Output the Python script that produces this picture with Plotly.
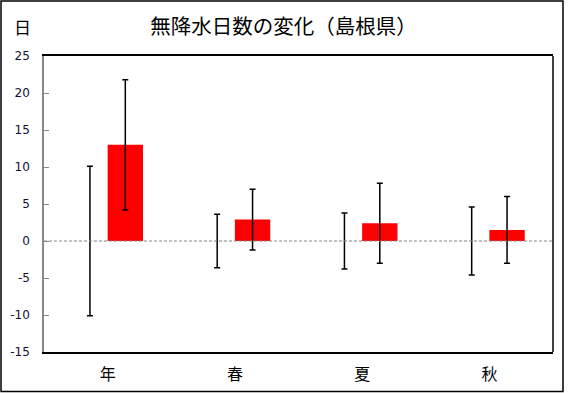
import plotly.graph_objects as go

categories = ["年", "春", "夏", "秋"]
base_values = [0, 0, 0, 0]
base_err = [10.1, 3.6, 3.8, 4.6]
change_values = [13.0, 2.9, 2.4, 1.5]
change_err = [8.8, 4.1, 5.4, 4.5]
y_ticks = [-15, -10, -5, 0, 5, 10, 15, 20, 25]
y_tick_labels = [str(v) for v in y_ticks]

W, H = 568, 393
L, R, T, B = 44, 15, 56, 41
pw = W - L - R
ph = H - T - B


def px_x(p):
    return (p - L) / pw


def px_y(p):
    return (H - B - p) / ph


fig = go.Figure()
fig.add_trace(go.Bar(
    x=categories, y=base_values, marker=dict(color="rgba(0,0,0,0)"),
    error_y=dict(type="data", array=base_err, visible=True, color="black", thickness=1.5, width=3),
    showlegend=False, hoverinfo="skip"))
fig.add_trace(go.Bar(
    x=categories, y=change_values, marker=dict(color="#FF0000", line=dict(width=0)),
    error_y=dict(type="data", array=change_err, visible=True, color="black", thickness=1.5, width=3),
    showlegend=False))

fig.update_layout(
    width=W, height=H,
    margin=dict(l=L, r=R, t=T, b=B, pad=0, autoexpand=False),
    paper_bgcolor="white", plot_bgcolor="white",
    barmode="group", bargap=0.444, bargroupgap=0,
    font=dict(family="DejaVu Sans, sans-serif", size=12, color="black"),
    title=dict(text="無降水日数の変化（島根県）", x=283.5 / W, xref="container", xanchor="center",
               y=1 - 27 / H, yref="container", yanchor="middle",
               font=dict(family="Noto Sans CJK JP", size=20.5, color="black")),
    xaxis=dict(showline=True, linecolor="black", linewidth=1.5, mirror=True,
               showgrid=False, ticks="", zeroline=False, automargin=False,
               ticklabelstandoff=7,
               tickfont=dict(family="Noto Sans CJK JP", size=16, color="black")),
    yaxis=dict(range=[-15, 25], tickvals=y_ticks, ticktext=y_tick_labels,
               showgrid=False, zeroline=False, automargin=False,
               showline=True, linecolor="#888888", linewidth=1.5,
               ticks="inside", ticklen=5, tickcolor="#888888", tickwidth=1,
               tickfont=dict(size=12, color="#111133"), ticklabelstandoff=10),
    annotations=[dict(text="日", xref="paper", yref="paper",
                      x=px_x(22), y=px_y(27), xanchor="center", yanchor="middle",
                      showarrow=False, font=dict(family="Noto Sans CJK JP", size=17, color="black"))],
    shapes=[
        dict(type="line", xref="paper", yref="y", x0=0, x1=1, y0=0, y1=0,
             line=dict(color="#888888", width=1, dash="3px,2px"), layer="above"),
        dict(type="line", xref="paper", yref="paper", x0=1, x1=1, y0=0, y1=1,
             line=dict(color="black", width=1.5)),
        dict(type="rect", xref="paper", yref="paper",
             x0=px_x(1), x1=px_x(563), y0=px_y(391.5), y1=px_y(1),
             line=dict(color="black", width=1.5)),
    ],
)

fig.write_html("out.html", config={"displayModeBar": False},
               post_script="document.body.style.margin='0';document.body.style.padding='0';")
